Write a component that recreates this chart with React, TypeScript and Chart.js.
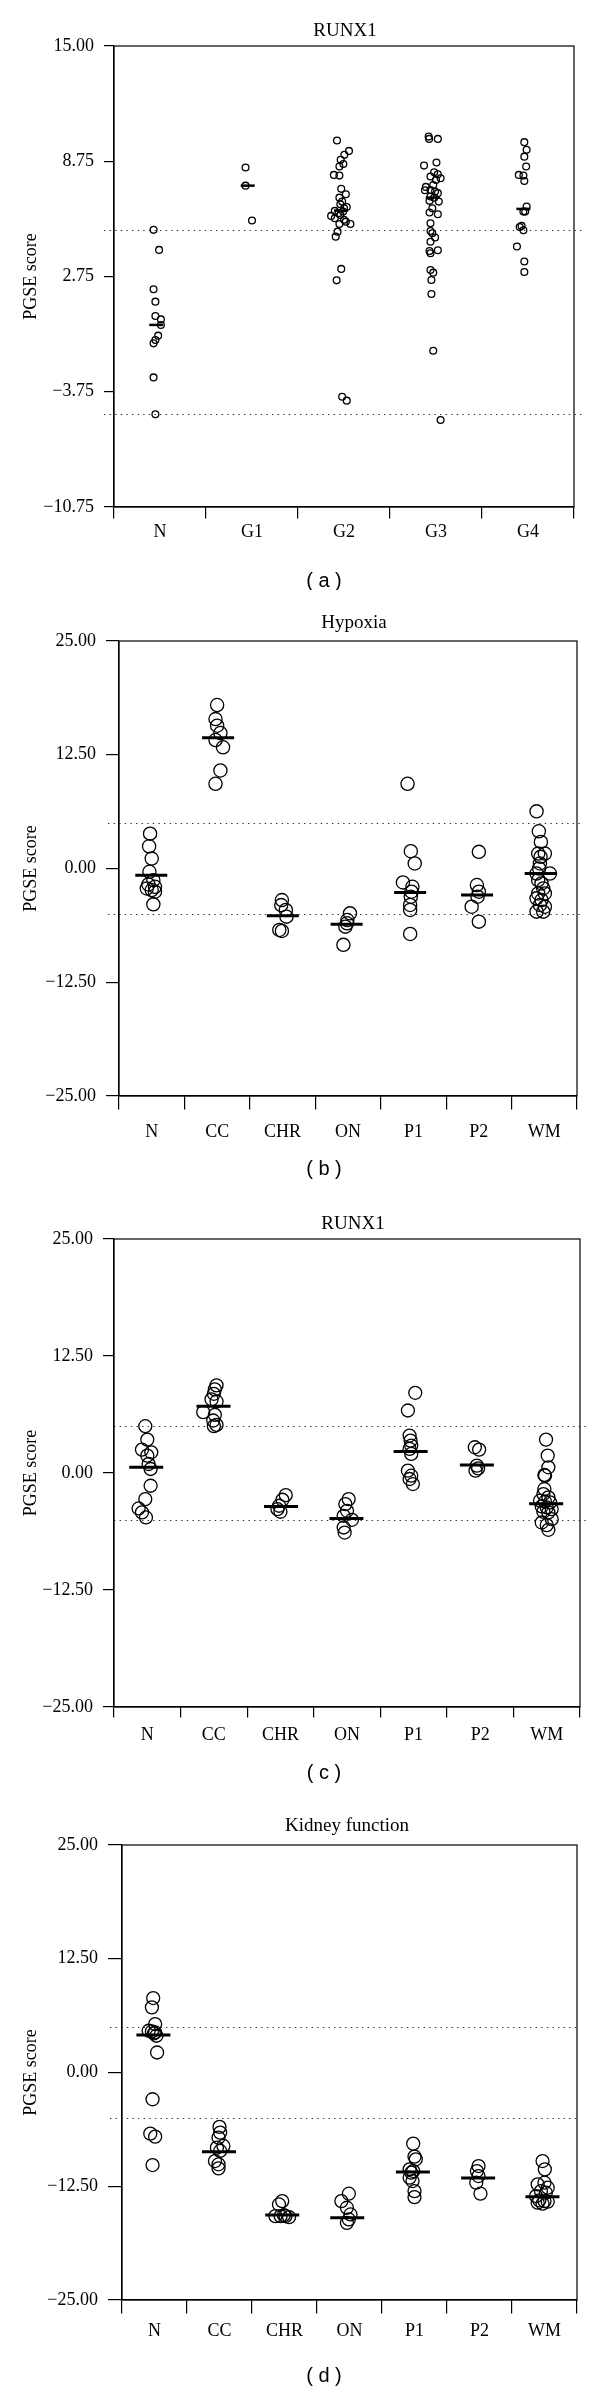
import React, { useEffect, useRef } from 'react';
import { Chart, registerables } from 'chart.js';

Chart.register(...registerables);

const SERIF = '"Liberation Serif", "Times New Roman", serif';
const SANS = '"Liberation Sans", Arial, sans-serif';

// ---------- Panel (a): RUNX1, grades ----------
const A_TITLE = 'RUNX1';
const A_CAPTION = '( a )';
const A_CATEGORIES = ['N', 'G1', 'G2', 'G3', 'G4'];
const A_Y_RANGE = [-10.75, 15];
const A_Y_LABELS = ['−10.75', '−3.75', '2.75', '8.75', '15.00'];
const A_THRESHOLDS = [4.73, -5.57];
const A_VALUES = [
  [4.73, 3.61, 1.41, 0.72, -0.08, -0.27, -0.58, -1.18, -1.42, -1.61, -3.51, -5.57],
  [8.21, 7.2, 5.25],
  [9.72, 9.14, 8.92, 8.64, 8.41, 8.27, 7.8, 7.76, 7.02, 6.72, 6.53, 6.31, 6.16, 6.01, 5.94, 5.79, 5.75, 5.66, 5.51, 5.38, 5.56, 5.29, 5.06, 5.06, 5.19, 4.63, 4.35, 2.55, 1.91, -4.59, -4.81],
  [9.94, 9.81, 9.81, 8.49, 8.32, 7.95, 7.71, 7.84, 7.61, 7.52, 7.24, 7.13, 6.94, 6.96, 6.87, 6.78, 6.59, 6.53, 6.35, 6.31, 5.94, 5.7, 5.6, 5.1, 4.67, 4.54, 4.3, 4.07, 3.55, 3.42, 3.59, 2.49, 2.34, 1.93, 1.15, -2.02, -5.89],
  [9.63, 9.2, 8.82, 8.27, 7.8, 7.76, 7.46, 6.03, 5.75, 5.75, 4.95, 4.89, 4.71, 3.8, 2.96, 2.38],
];
const A_JITTER = [
  [-0.07, -0.01, -0.07, -0.05, -0.05, 0.01, 0.01, -0.02, -0.05, -0.07, -0.07, -0.05],
  [-0.07, -0.07, 0.0],
  [-0.076, 0.054, 0.004, -0.036, -0.007, -0.05, -0.11, -0.05, -0.03, 0.02, -0.05, -0.02, -0.04, 0.03, 0.0, -0.1, -0.01, -0.06, -0.14, -0.1, -0.04, 0.0, 0.07, -0.05, 0.02, -0.07, -0.09, -0.03, -0.08, -0.02, 0.03],
  [-0.08, -0.075, 0.02, 0.005, -0.13, -0.02, -0.06, 0.02, 0.05, 0.0, -0.03, -0.11, -0.12, -0.06, -0.01, 0.02, -0.06, -0.02, -0.07, 0.03, -0.04, -0.07, 0.02, -0.06, -0.06, -0.04, -0.01, -0.06, -0.07, -0.06, 0.02, -0.06, -0.03, -0.05, -0.05, -0.03, 0.05],
  [-0.04, -0.015, -0.04, -0.02, -0.1, -0.05, -0.04, -0.015, -0.05, -0.03, -0.07, -0.09, -0.05, -0.12, -0.04, -0.04],
];
const A_MEDIANS = [-0.58, 7.2, 5.81, 6.53, 5.9];

// ---------- Shared for panels (b)-(d) ----------
const TISSUE_CATEGORIES = ['N', 'CC', 'CHR', 'ON', 'P1', 'P2', 'WM'];
const TISSUE_Y_RANGE = [-25, 25];
const TISSUE_Y_LABELS = ['−25.00', '−12.50', '0.00', '12.50', '25.00'];
const TISSUE_THRESHOLDS = [5, -5];

// ---------- Panel (b): Hypoxia ----------
const B_TITLE = 'Hypoxia';
const B_CAPTION = '( b )';
const B_VALUES = [
  [3.83, 2.44, 1.09, -0.36, -1.28, -1.75, -2.01, -2.19, -2.37, -2.55, -3.94],
  [17.96, 16.42, 15.69, 14.89, 14.12, 13.32, 10.77, 9.31],
  [-3.47, -4.02, -4.56, -5.29, -6.75, -6.86],
  [-4.93, -5.66, -6.02, -6.39, -8.39],
  [9.31, 1.9, 0.55, -1.53, -2.01, -2.55, -3.1, -4.01, -4.56, -7.19],
  [1.83, -1.82, -2.55, -3.1, -4.2, -5.84],
  [6.28, 4.09, 2.92, 1.64, 1.64, 1.28, 0.55, 0.0, -0.55, -0.55, -1.28, -1.64, -2.19, -2.74, -2.74, -3.28, -3.47, -4.01, -4.2, -4.74, -4.74],
];
const B_JITTER = [
  [-0.025, -0.04, 0.0, -0.035, 0.025, -0.05, 0.05, -0.075, 0.0, 0.05, 0.025],
  [0.0, -0.025, 0.0, 0.05, -0.025, 0.09, 0.05, -0.025],
  [-0.01, -0.02, 0.05, 0.06, -0.05, -0.01],
  [0.03, -0.01, -0.015, -0.04, -0.07],
  [-0.09, -0.04, 0.02, -0.16, -0.015, -0.03, -0.04, -0.05, -0.05, -0.05],
  [0.0, -0.03, 0.0, -0.02, -0.11, 0.0],
  [-0.118, -0.083, -0.052, -0.093, 0.009, -0.057, -0.067, -0.078, -0.118, 0.086, -0.093, -0.042, -0.016, -0.093, 0.009, -0.118, -0.042, -0.067, 0.009, -0.118, -0.016],
];
const B_MEDIANS = [-0.73, 14.38, -5.18, -6.13, -2.63, -2.92, -0.55];

// ---------- Panel (c): RUNX1 ----------
const C_TITLE = 'RUNX1';
const C_CAPTION = '( c )';
const C_VALUES = [
  [5.0, 3.57, 2.5, 2.21, 1.86, 0.96, 0.43, -1.36, -2.79, -3.79, -4.21, -4.75],
  [9.36, 8.93, 8.46, 7.86, 7.64, 6.5, 6.21, 5.61, 5.14, 5.0],
  [-2.36, -2.86, -3.5, -3.86, -4.14],
  [-2.79, -3.32, -4.04, -4.57, -5.0, -5.82, -6.36],
  [8.57, 6.68, 4.0, 3.46, 2.93, 2.57, 2.04, 0.25, -0.29, -0.64, -1.18],
  [2.75, 2.5, 0.79, 0.5, 0.25],
  [3.57, 1.86, 0.61, -0.21, -0.29, -1.71, -2.25, -2.61, -2.96, -3.07, -3.14, -3.57, -3.68, -3.86, -4.14, -4.21, -4.93, -5.29, -5.57, -6.07],
];
const C_JITTER = [
  [-0.03, 0.0, -0.08, 0.06, 0.0, 0.02, 0.05, 0.05, -0.03, -0.13, -0.08, -0.02],
  [0.04, 0.015, 0.0, -0.035, 0.04, -0.16, 0.015, -0.01, 0.04, 0.0],
  [0.08, 0.03, -0.02, -0.045, 0.0],
  [0.025, -0.025, 0.0, -0.05, 0.075, -0.05, -0.035],
  [0.025, -0.085, -0.06, -0.045, -0.035, -0.06, -0.035, -0.085, -0.035, -0.06, -0.01],
  [-0.08, -0.015, -0.05, -0.03, -0.07],
  [-0.01, 0.015, 0.025, -0.035, -0.025, -0.035, -0.05, 0.025, -0.1, -0.025, 0.05, -0.075, 0.0, 0.075, -0.05, 0.025, 0.075, -0.075, 0.0, 0.025],
];
const C_MEDIANS = [0.61, 7.14, -3.57, -4.86, 2.29, 0.86, -3.29];

// ---------- Panel (d): Kidney function ----------
const D_TITLE = 'Kidney function';
const D_CAPTION = '( d )';
const D_VALUES = [
  [8.18, 7.16, 5.32, 4.59, 4.51, 4.4, 4.29, 4.04, 2.2, -2.94, -6.72, -7.05, -10.17],
  [-5.98, -6.61, -7.16, -8.07, -8.26, -8.62, -9.73, -10.09, -10.53],
  [-14.13, -14.5, -15.78, -15.78, -15.78, -15.89, -15.67],
  [-13.32, -14.13, -14.86, -15.6, -16.15, -16.52],
  [-7.82, -9.25, -9.54, -10.64, -10.83, -11.01, -11.56, -11.93, -13.03, -13.69],
  [-10.28, -10.83, -11.38, -12.11, -13.32],
  [-9.73, -10.64, -12.11, -12.29, -12.66, -13.03, -13.21, -13.58, -14.06, -14.13, -14.2, -14.31, -14.42],
];
const D_JITTER = [
  [-0.02, -0.04, 0.01, -0.09, -0.04, 0.01, -0.01, 0.03, 0.04, -0.03, -0.065, 0.01, -0.03],
  [0.0, 0.01, -0.015, 0.06, -0.04, 0.01, -0.07, -0.015, -0.015],
  [-0.035, -0.085, -0.14, -0.06, 0.015, 0.07, -0.01],
  [-0.01, -0.125, -0.04, 0.015, -0.01, -0.04],
  [-0.02, 0.0, 0.02, -0.075, -0.02, -0.05, -0.075, -0.03, 0.0, 0.0],
  [-0.015, -0.04, -0.015, -0.05, 0.015],
  [-0.03, 0.005, 0.0, -0.105, 0.05, -0.055, 0.02, -0.13, -0.08, 0.0, 0.05, -0.105, -0.03],
];
const D_MEDIANS = [4.11, -8.7, -15.67, -15.96, -10.94, -11.6, -13.65];

// ---------- Layout / style (not data) ----------
type Layout = {
  height: number; left: number; right: number; top: number; bottom: number;
  xTick: number; yTick: number; xLabelPad: number;
  titleX: number; titleY: number; captionY: number;
  dotLeft: number; dotRight: number;
  radius: number; pointLine: number; medianHalf: number; medianLine: number;
};

type PanelSpec = {
  title: string; caption: string; categories: string[];
  yRange: number[]; yLabels: string[]; thresholds: number[];
  values: number[][]; jitter: number[][]; medians: number[];
  layout: Layout;
};

const PANELS: PanelSpec[] = [
  {
    title: A_TITLE, caption: A_CAPTION, categories: A_CATEGORIES, yRange: A_Y_RANGE, yLabels: A_Y_LABELS,
    thresholds: A_THRESHOLDS, values: A_VALUES, jitter: A_JITTER, medians: A_MEDIANS,
    layout: { height: 590, left: 114, right: 574, top: 46, bottom: 507, xTick: 11.5, yTick: 10, xLabelPad: 3,
      titleX: 345, titleY: 31, captionY: 581, dotLeft: 10, dotRight: 9, radius: 3.4, pointLine: 1.3, medianHalf: 7, medianLine: 2.5 },
  },
  {
    title: B_TITLE, caption: B_CAPTION, categories: TISSUE_CATEGORIES, yRange: TISSUE_Y_RANGE, yLabels: TISSUE_Y_LABELS,
    thresholds: TISSUE_THRESHOLDS, values: B_VALUES, jitter: B_JITTER, medians: B_MEDIANS,
    layout: { height: 600, left: 119, right: 577, top: 51, bottom: 506, xTick: 13.5, yTick: 13, xLabelPad: 12,
      titleX: 354, titleY: 33, captionY: 579, dotLeft: 11, dotRight: 4, radius: 6.6, pointLine: 1.3, medianHalf: 16, medianLine: 3 },
  },
  {
    title: C_TITLE, caption: C_CAPTION, categories: TISSUE_CATEGORIES, yRange: TISSUE_Y_RANGE, yLabels: TISSUE_Y_LABELS,
    thresholds: TISSUE_THRESHOLDS, values: C_VALUES, jitter: C_JITTER, medians: C_MEDIANS,
    layout: { height: 600, left: 114, right: 582, top: 49, bottom: 517, xTick: 10.5, yTick: 11, xLabelPad: 7,
      titleX: 353, titleY: 34, captionY: 583, dotLeft: 0, dotRight: 6, radius: 6.5, pointLine: 1.3, medianHalf: 17, medianLine: 3 },
  },
  {
    title: D_TITLE, caption: D_CAPTION, categories: TISSUE_CATEGORIES, yRange: TISSUE_Y_RANGE, yLabels: TISSUE_Y_LABELS,
    thresholds: TISSUE_THRESHOLDS, values: D_VALUES, jitter: D_JITTER, medians: D_MEDIANS,
    layout: { height: 602, left: 122, right: 577, top: 55, bottom: 510, xTick: 13.5, yTick: 14, xLabelPad: 6.5,
      titleX: 347, titleY: 36.5, captionY: 586.5, dotLeft: 12, dotRight: 2, radius: 6.5, pointLine: 1.3, medianHalf: 17, medianLine: 3 },
  },
];

const isWhole = (v: number) => Math.abs(v - Math.round(v)) < 1e-6;

function buildConfig(p: PanelSpec): any {
  const L = p.layout;
  const n = p.categories.length;
  const [yMin, yMax] = p.yRange;
  const yTickValues = p.yLabels.map((_, i) => yMin + ((yMax - yMin) * i) / (p.yLabels.length - 1));
  const xTickValues: number[] = [];
  for (let k = 0; k <= 2 * n; k++) xTickValues.push(-0.5 + k * 0.5);

  const pointData = p.values.flatMap((vals, ci) =>
    vals.map((v, j) => ({ x: ci + (p.jitter[ci][j] ?? 0), y: v }))
  );
  const medianData = p.medians.map((m, ci) => {
    const js = p.jitter[ci];
    const mean = js.reduce((s, v) => s + v, 0) / js.length;
    return { x: ci + mean, y: m };
  });

  const decor = {
    id: 'decor',
    beforeDatasetsDraw(chart: any) {
      const { ctx, chartArea, scales } = chart;
      ctx.save();
      ctx.strokeStyle = '#333';
      ctx.lineWidth = 1.2;
      ctx.setLineDash([1.4, 4.2]);
      p.thresholds.forEach((t) => {
        const y = Math.round(scales.y.getPixelForValue(t)) + 0.5;
        ctx.beginPath();
        ctx.moveTo(chartArea.left - L.dotLeft, y);
        ctx.lineTo(chartArea.right + L.dotRight, y);
        ctx.stroke();
      });
      ctx.restore();
    },
    afterDraw(chart: any) {
      const { ctx, chartArea } = chart;
      ctx.save();
      ctx.strokeStyle = '#000';
      ctx.lineWidth = 1.2;
      ctx.setLineDash([]);
      ctx.strokeRect(chartArea.left, chartArea.top, chartArea.right - chartArea.left, chartArea.bottom - chartArea.top);
      ctx.fillStyle = '#000';
      ctx.textAlign = 'center';
      ctx.textBaseline = 'middle';
      ctx.font = `19px ${SERIF}`;
      ctx.fillText(p.title, L.titleX, L.titleY);
      ctx.font = `20px ${SANS}`;
      ctx.fillText(p.caption, 324, L.captionY);
      ctx.restore();
    },
  };

  return {
    type: 'scatter',
    data: {
      datasets: [
        {
          label: 'median',
          data: medianData,
          pointStyle: 'line',
          pointRadius: L.medianHalf,
          borderWidth: L.medianLine,
          borderColor: '#000',
          backgroundColor: '#000',
        },
        {
          label: 'samples',
          data: pointData,
          pointStyle: 'circle',
          pointRadius: L.radius,
          borderWidth: L.pointLine,
          borderColor: '#000',
          backgroundColor: 'rgba(0,0,0,0)',
        },
      ],
    },
    options: {
      responsive: false,
      animation: false,
      events: [],
      layout: { padding: { top: L.top, right: 600 - L.right, left: 0, bottom: 0 } },
      plugins: { legend: { display: false }, tooltip: { enabled: false }, title: { display: false } },
      scales: {
        x: {
          type: 'linear',
          min: -0.5,
          max: n - 0.5,
          afterBuildTicks: (scale: any) => { scale.ticks = xTickValues.map((v) => ({ value: v })); },
          afterFit: (scale: any) => { scale.height = L.height - L.bottom; },
          grid: {
            drawOnChartArea: false,
            drawTicks: true,
            tickLength: L.xTick,
            lineWidth: 1.2,
            color: (ctx: any) => (ctx.tick && isWhole(ctx.tick.value) ? 'rgba(0,0,0,0)' : '#000'),
          },
          border: { display: true, color: '#000', width: 1.2 },
          ticks: {
            autoSkip: false,
            maxRotation: 0,
            minRotation: 0,
            padding: L.xLabelPad,
            color: '#000',
            font: { family: SERIF, size: 18 },
            callback: (value: number) => (isWhole(value) ? p.categories[Math.round(value)] ?? '' : ''),
          },
        },
        y: {
          type: 'linear',
          min: yMin,
          max: yMax,
          afterBuildTicks: (scale: any) => { scale.ticks = yTickValues.map((v) => ({ value: v })); },
          afterFit: (scale: any) => { scale.width = L.left; },
          grid: { drawOnChartArea: false, drawTicks: true, tickLength: L.yTick, lineWidth: 1.2, color: '#000' },
          border: { display: true, color: '#000', width: 1.2 },
          ticks: {
            autoSkip: false,
            padding: 10,
            color: '#000',
            font: { family: SERIF, size: 18 },
            callback: (_v: number, i: number) => p.yLabels[i],
          },
          title: {
            display: true,
            text: 'PGSE score',
            color: '#000',
            font: { family: SERIF, size: 18 },
            padding: { top: 20, bottom: 0 },
          },
        },
      },
    },
    plugins: [decor],
  };
}

function Panel({ spec }: { spec: PanelSpec }) {
  const ref = useRef<HTMLCanvasElement | null>(null);
  useEffect(() => {
    if (!ref.current) return;
    const chart = new Chart(ref.current, buildConfig(spec));
    return () => chart.destroy();
  }, [spec]);
  return <canvas ref={ref} width={600} height={spec.layout.height} style={{ display: 'block', width: 600, height: spec.layout.height }} />;
}

export default function App() {
  return (
    <div style={{ width: 600, background: '#fff' }}>
      <style>{'body{margin:0;background:#fff}'}</style>
      {PANELS.map((p, i) => (
        <Panel key={i} spec={p} />
      ))}
    </div>
  );
}
